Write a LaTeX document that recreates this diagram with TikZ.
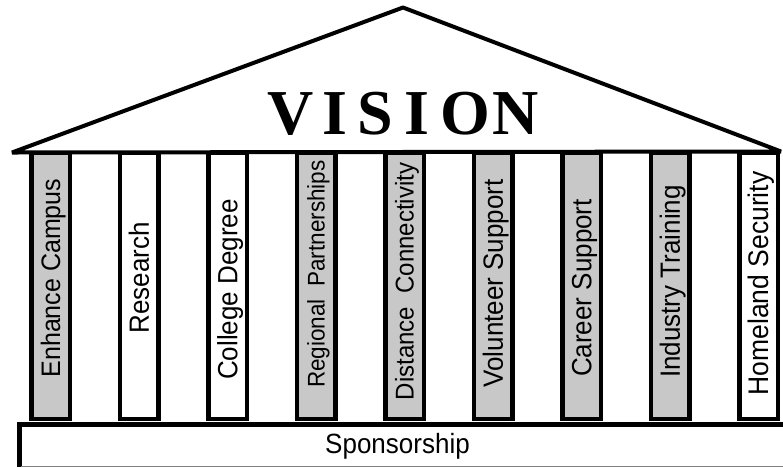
\documentclass[tikz,border=0pt]{standalone}
\usepackage{fontspec}
\setmainfont{Liberation Sans}
\newfontfamily\visionfont{Liberation Serif}
\definecolor{pillargray}{RGB}{200,200,200}
\newcommand{\tallish}[1]{\scalebox{1}[1.07]{#1}}
\begin{document}
\begin{tikzpicture}[x=1pt,y=-1pt,
  outline/.style={line width=4.5pt, draw=black},
  pillar/.style={outline, rectangle, minimum width=38.5pt, minimum height=266pt, inner sep=0pt, outer sep=0pt, anchor=north},
  ptext/.style={rotate=90, anchor=base, inner sep=0pt, outer sep=0pt},
  rooflines/.style={line width=4pt, line join=bevel},
]
\useasboundingbox (0,0) rectangle (783,467);
% roof
\coordinate (rl) at (12,152.5);
\coordinate (apex) at (403,7.5);
\coordinate (rr) at (781,151.5);
\draw[rooflines] (rl) -- (apex) -- (rr) -- cycle;
\node[font=\visionfont\bfseries\fontsize{64}{64}\selectfont, anchor=base, inner sep=0pt] (vision) at (403,134)
  {V\kern9pt I\kern10pt S\kern12pt I\kern11pt O\kern2pt N};
% pillars
\foreach \i/\cx/\fillc/\yc/\fs/\txt in {
  1/50.5/pillargray/278/25/Enhance Campus,
  2/139/white/278/26/Research,
  3/227.5/white/289.5/26/College Degree,
  4/316/pillargray/274/22.5/Regional\ \ Partnerships,
  5/404.5/pillargray/281.5/24/Distance\ \ Connectivity,
  6/493/pillargray/283.5/26/Volunteer Support,
  7/581.5/pillargray/288/26/Career Support,
  8/670/pillargray/281.5/26/Industry Training,
  9/758.5/white/283.5/26.5/Homeland Security}{
  \node[pillar, fill=\fillc] (p\i) at (\cx,153) {};
  \pgfmathsetmacro\sh{\cx+1.07*0.358*\fs}
  \node[ptext, font=\fontsize{\fs}{\fs}\selectfont] (t\i) at (\sh,\yc) {\tallish{\txt}};
}
% base
\coordinate (bl) at (19.5,467);
\coordinate (btl) at (19.5,424.5);
\coordinate (btr) at (800,424.5);
\draw[outline] (bl) -- (btl) -- (btr);
\coordinate (bbl) at (21,466);
\coordinate (bbr) at (783,466);
\draw[gray, line width=1pt] (bbl) -- (bbr);
\node[font=\fontsize{26}{26}\selectfont, anchor=base, inner sep=0pt] (sponsor) at (397.5,453) {\tallish{Sponsorship}};
\end{tikzpicture}
\end{document}
